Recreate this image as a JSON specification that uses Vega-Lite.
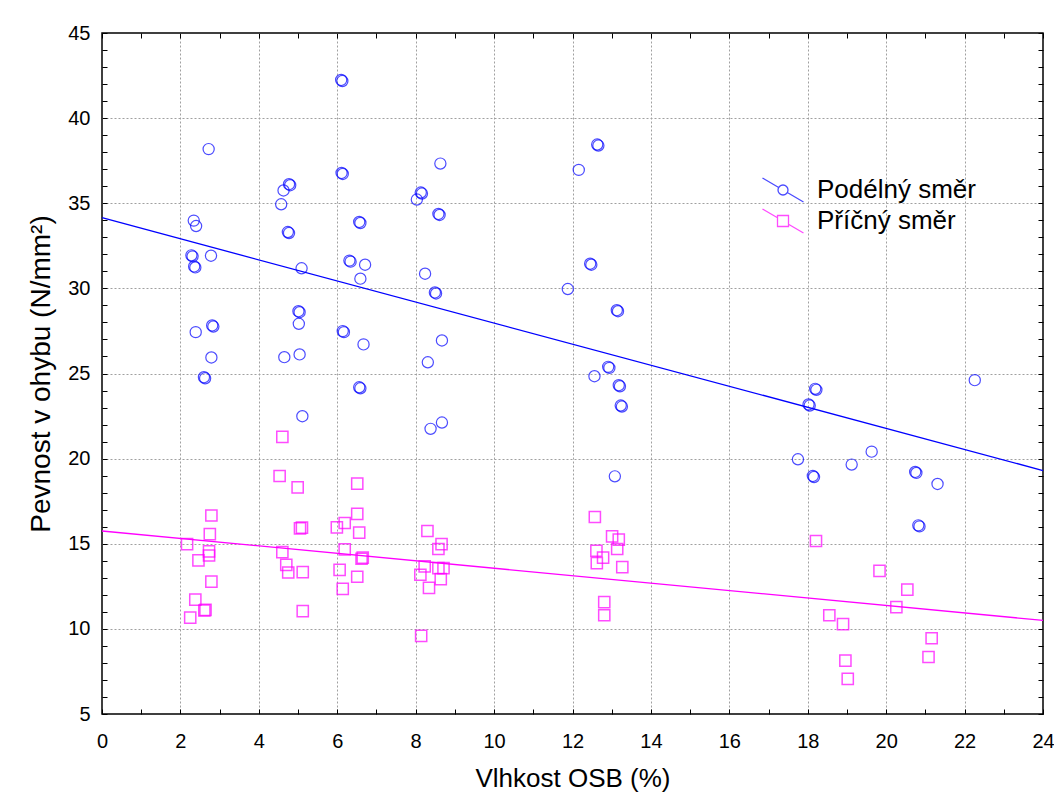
{
  "$schema": "https://vega.github.io/schema/vega-lite/v6.json",
  "autosize": {"type": "none"},
  "padding": {"left": 102, "top": 33, "right": 11, "bottom": 82},
  "width": 941,
  "height": 681,
  "background": "white",
  "config": {
    "view": {"stroke": "black", "strokeWidth": 1.5},
    "font": "Liberation Sans"
  },
  "datasets": {
    "podelny": [
      {"x":6.10,"y":42.24},{"x":6.13,"y":42.18},{"x":2.72,"y":38.18},{"x":8.63,"y":37.33},{"x":6.11,"y":36.78},{"x":6.14,"y":36.72},
      {"x":4.77,"y":36.12},{"x":4.80,"y":36.06},{"x":4.63,"y":35.75},{"x":4.57,"y":34.94},{"x":8.13,"y":35.63},{"x":8.16,"y":35.57},
      {"x":8.03,"y":35.22},{"x":8.58,"y":34.37},{"x":8.61,"y":34.31},{"x":2.34,"y":33.98},{"x":2.40,"y":33.66},{"x":6.56,"y":33.90},
      {"x":6.59,"y":33.84},{"x":4.74,"y":33.31},{"x":4.77,"y":33.25},{"x":2.28,"y":31.94},{"x":2.31,"y":31.88},{"x":2.35,"y":31.29},
      {"x":2.38,"y":31.23},{"x":2.78,"y":31.92},{"x":5.09,"y":31.18},{"x":6.31,"y":31.63},{"x":6.34,"y":31.57},{"x":6.71,"y":31.39},
      {"x":6.59,"y":30.57},{"x":8.24,"y":30.86},{"x":8.49,"y":29.76},{"x":8.52,"y":29.70},{"x":5.01,"y":28.66},{"x":5.04,"y":28.60},
      {"x":5.02,"y":27.92},{"x":2.81,"y":27.82},{"x":2.84,"y":27.76},{"x":2.39,"y":27.43},{"x":6.14,"y":27.49},{"x":6.17,"y":27.43},
      {"x":6.67,"y":26.71},{"x":8.67,"y":26.94},{"x":2.79,"y":25.94},{"x":4.65,"y":25.96},{"x":5.04,"y":26.12},{"x":8.31,"y":25.66},
      {"x":2.60,"y":24.78},{"x":2.63,"y":24.72},{"x":6.56,"y":24.19},{"x":6.59,"y":24.13},{"x":5.11,"y":22.49},{"x":8.38,"y":21.75},
      {"x":8.67,"y":22.12},
      {"x":12.63,"y":38.45},{"x":12.66,"y":38.39},{"x":12.16,"y":36.96},{"x":12.45,"y":31.45},{"x":12.48,"y":31.39},{"x":11.88,"y":29.96},
      {"x":13.13,"y":28.72},{"x":13.16,"y":28.66},{"x":12.91,"y":25.39},{"x":12.94,"y":25.33},{"x":12.56,"y":24.84},{"x":13.18,"y":24.31},
      {"x":13.21,"y":24.25},{"x":13.23,"y":23.12},{"x":13.26,"y":23.06},{"x":13.08,"y":18.96},
      {"x":22.26,"y":24.61},{"x":18.19,"y":24.10},{"x":18.22,"y":24.04},{"x":18.02,"y":23.18},{"x":18.05,"y":23.12},{"x":17.75,"y":19.96},
      {"x":18.13,"y":18.98},{"x":18.16,"y":18.92},{"x":19.12,"y":19.65},{"x":19.63,"y":20.41},{"x":20.74,"y":19.22},{"x":20.77,"y":19.16},
      {"x":21.31,"y":18.51},{"x":20.82,"y":16.08},{"x":20.85,"y":16.02}
    ],
    "pricny": [
      {"x":4.60,"y":21.28},{"x":4.53,"y":18.98},{"x":4.99,"y":18.31},{"x":6.51,"y":18.53},{"x":2.79,"y":16.66},{"x":6.51,"y":16.75},
      {"x":6.19,"y":16.22},{"x":5.99,"y":15.96},{"x":5.05,"y":15.90},{"x":5.10,"y":15.95},{"x":2.75,"y":15.57},{"x":6.56,"y":15.65},
      {"x":2.17,"y":14.98},{"x":8.30,"y":15.75},{"x":8.58,"y":14.69},{"x":8.66,"y":14.98},{"x":4.60,"y":14.51},{"x":6.19,"y":14.67},
      {"x":2.73,"y":14.55},{"x":2.73,"y":14.31},{"x":2.46,"y":14.02},{"x":6.65,"y":14.19},{"x":6.62,"y":14.12},{"x":4.70,"y":13.76},
      {"x":4.75,"y":13.31},{"x":5.12,"y":13.33},{"x":6.06,"y":13.47},{"x":6.51,"y":13.06},{"x":8.12,"y":13.18},{"x":8.23,"y":13.67},
      {"x":8.58,"y":13.57},{"x":8.71,"y":13.57},{"x":8.64,"y":12.92},{"x":2.79,"y":12.78},{"x":6.14,"y":12.35},{"x":8.34,"y":12.41},
      {"x":2.38,"y":11.72},{"x":2.61,"y":11.08},{"x":2.64,"y":11.12},{"x":2.25,"y":10.66},{"x":5.12,"y":11.04},{"x":8.14,"y":9.59},
      {"x":12.57,"y":16.57},{"x":13.01,"y":15.43},{"x":13.18,"y":15.24},{"x":12.61,"y":14.59},{"x":13.14,"y":14.69},{"x":12.78,"y":14.19},
      {"x":12.62,"y":13.86},{"x":13.27,"y":13.63},{"x":12.81,"y":11.57},{"x":12.81,"y":10.80},
      {"x":18.21,"y":15.16},{"x":19.83,"y":13.41},{"x":20.54,"y":12.31},{"x":20.26,"y":11.28},{"x":18.55,"y":10.80},{"x":18.90,"y":10.28},
      {"x":21.16,"y":9.45},{"x":21.08,"y":8.35},{"x":18.96,"y":8.14},{"x":19.02,"y":7.06}
    ],
    "fitP": [{"x":0,"y":34.15},{"x":24,"y":19.3}],
    "fitQ": [{"x":0,"y":15.75},{"x":24,"y":10.5}]
  },
  "layer": [
    {
      "data": {"name": "podelny"},
      "mark": {"type": "point", "filled": false, "size": 125, "strokeWidth": 1.2},
      "encoding": {
        "x": {
          "field": "x", "type": "quantitative",
          "scale": {"domain": [0, 24], "nice": false, "zero": false},
          "axis": {
            "orient": "bottom",
            "values": [0,1,2,3,4,5,6,7,8,9,10,11,12,13,14,15,16,17,18,19,20,21,22,23,24],
            "labelExpr": "datum.value % 2 === 0 ? datum.label : ''",
            "labelOverlap": false, "labelFlush": false,
            "domain": false,
            "tickSize": -5, "tickColor": "black", "tickWidth": 1,
            "grid": true, "gridColor": "#a0a0a0", "gridDash": [2, 2], "gridWidth": 1,
            "gridOpacity": {"condition": {"test": "datum.value % 2 === 0 && datum.value > 0 && datum.value < 24", "value": 1}, "value": 0},
            "labelFont": "Liberation Sans", "labelFontSize": 20, "labelColor": "black", "labelPadding": 22,
            "title": "Vlhkost OSB (%)", "titleFont": "Liberation Sans", "titleFontSize": 26,
            "titleFontWeight": "normal", "titleColor": "black", "titlePadding": 14
          }
        },
        "y": {
          "field": "y", "type": "quantitative",
          "scale": {"domain": [5, 45], "nice": false, "zero": false},
          "axis": {
            "orient": "left",
            "values": [5,6,7,8,9,10,11,12,13,14,15,16,17,18,19,20,21,22,23,24,25,26,27,28,29,30,31,32,33,34,35,36,37,38,39,40,41,42,43,44,45],
            "labelExpr": "datum.value % 5 === 0 ? datum.label : ''",
            "labelOverlap": false, "labelFlush": false,
            "domain": false,
            "tickSize": -5, "tickColor": "black", "tickWidth": 1,
            "grid": true, "gridColor": "#a0a0a0", "gridDash": [2, 2], "gridWidth": 1,
            "gridOpacity": {"condition": {"test": "datum.value % 5 === 0 && datum.value > 5 && datum.value < 45", "value": 1}, "value": 0},
            "labelFont": "Liberation Sans", "labelFontSize": 20, "labelColor": "black", "labelPadding": 17,
            "title": "Pevnost v ohybu (N/mm²)", "titleFont": "Liberation Sans", "titleFontSize": 28,
            "titleFontWeight": "normal", "titleColor": "black", "titlePadding": 12
          }
        },
        "color": {
          "datum": "Podélný směr", "type": "nominal",
          "scale": {"domain": ["Podélný směr", "Příčný směr"], "range": ["#0000ff", "#ff00ff"]},
          "legend": {
            "title": null, "orient": "none", "legendX": 668, "legendY": 144,
            "padding": 0, "symbolSize": 400, "symbolStrokeWidth": 1.3,
            "symbolType": {"expr": "datum.value === 'Podélný směr' ? 'M-2.05,-1.2L-0.43,-0.25M0.43,0.25L2.05,1.2M0.5,0A0.5,0.5 0 1,1 -0.5,0A0.5,0.5 0 1,1 0.5,0' : 'M-2.05,-1.2L-0.55,-0.32M0.55,0.32L2.05,1.2M-0.55,-0.55L0.55,-0.55L0.55,0.55L-0.55,0.55Z'"},
            "labelFont": "Liberation Sans", "labelFontSize": 26, "labelColor": "black",
            "labelOffset": 21, "labelLimit": 400, "rowPadding": 1
          }
        }
      }
    },
    {
      "data": {"name": "pricny"},
      "mark": {"type": "point", "shape": "square", "filled": false, "size": 125, "strokeWidth": 1.5},
      "encoding": {
        "x": {
          "field": "x", "type": "quantitative",
          "axis": {
            "orient": "top",
            "values": [0,1,2,3,4,5,6,7,8,9,10,11,12,13,14,15,16,17,18,19,20,21,22,23,24],
            "labels": false, "domain": false, "grid": false,
            "tickSize": -5, "tickColor": "black", "tickWidth": 1, "title": null
          }
        },
        "y": {
          "field": "y", "type": "quantitative",
          "axis": {
            "orient": "right",
            "values": [5,6,7,8,9,10,11,12,13,14,15,16,17,18,19,20,21,22,23,24,25,26,27,28,29,30,31,32,33,34,35,36,37,38,39,40,41,42,43,44,45],
            "labels": false, "domain": false, "grid": false,
            "tickSize": -5, "tickColor": "black", "tickWidth": 1, "title": null
          }
        },
        "color": {"datum": "Příčný směr", "type": "nominal"}
      }
    },
    {
      "data": {"name": "fitP"},
      "mark": {"type": "line", "color": "#0000ff", "strokeWidth": 1.3},
      "encoding": {
        "x": {"field": "x", "type": "quantitative", "axis": null},
        "y": {"field": "y", "type": "quantitative", "axis": null}
      }
    },
    {
      "data": {"name": "fitQ"},
      "mark": {"type": "line", "color": "#ff00ff", "strokeWidth": 1.3},
      "encoding": {
        "x": {"field": "x", "type": "quantitative", "axis": null},
        "y": {"field": "y", "type": "quantitative", "axis": null}
      }
    }
  ],
  "resolve": {"axis": {"x": "independent", "y": "independent"}}
}
